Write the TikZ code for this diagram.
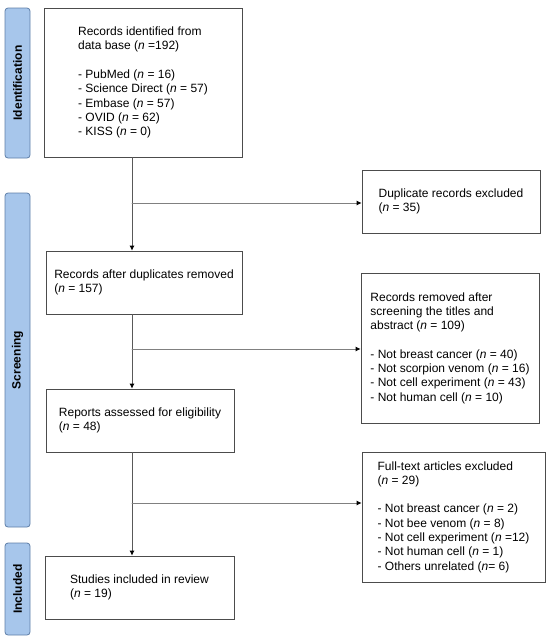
\documentclass[tikz,border=0pt]{standalone}
\usepackage{fontspec}
\setmainfont{Liberation Sans}
\usetikzlibrary{arrows.meta}

\begin{document}
\begin{tikzpicture}
  [x=1pt,y=-1pt,line cap=round,
   % Styles
   stage box/.style={draw=boxcolor,line width=0.8pt,fill=white,align=left,
     inner sep=0pt,font=\fontsize{12}{14.3}\selectfont},
   phase label/.style={draw=phaseborder,fill=phasecolor,rounded corners=3pt,
     line width=0.8pt,rotate=90,minimum height=25pt,inner sep=0pt,
     font=\bfseries\fontsize{12}{14}\selectfont},
   flow/.style={draw=linecolor,line width=0.8pt,
     -{Latex[length=5pt,width=5pt,color=black]}},
   branch/.style={flow,draw=branchcolor}]

  % Local definitions
  \def\nsym{\textit{n}}
  \def\gap{\\[14.3pt]}

  % Colors
  \colorlet{boxcolor}{black!70}
  \colorlet{linecolor}{black!65}
  \colorlet{branchcolor}{black!50}
  \definecolor{phasecolor}{HTML}{A7C6EB}
  \definecolor{phaseborder}{HTML}{5F7FA8}

  \useasboundingbox (0,0) rectangle (550,641);

  % Phase labels
  \node[phase label,minimum width=150pt] (identification) at (17.5,83) {Identification};
  \node[phase label,minimum width=334pt] (screening) at (17.5,360) {Screening};
  \node[phase label,minimum width=92pt] (included) at (17.5,589) {Included};

  % Main stages
  \node[stage box,minimum width=198pt,minimum height=149pt] (records) at (143,82.5)
    {Records identified from\\data base (\nsym{} =192)\gap
     - PubMed (\nsym{} = 16)\\- Science Direct (\nsym{} = 57)\\
     - Embase (\nsym{} = 57)\\- OVID (\nsym{} = 62)\\- KISS (\nsym{} = 0)};
  \node[stage box,minimum width=196pt,minimum height=63pt] (dedup) at (144,282.5)
    {Records after duplicates removed\\(\nsym{} = 157)};
  \node[stage box,minimum width=188pt,minimum height=63pt] (assessed) at (140,420.5)
    {Reports assessed for eligibility\\(\nsym{} = 48)};
  \node[stage box,minimum width=189pt,minimum height=63pt] (studies) at (139.5,587.5)
    {Studies included in review\\(\nsym{} = 19)};

  % Exclusions
  \node[stage box,minimum width=178pt,minimum height=63pt] (duplicates) at (451,201.5)
    {Duplicate records excluded\\(\nsym{} = 35)};
  \node[stage box,minimum width=178pt,minimum height=150pt] (screened) at (450,348)
    {Records removed after\\screening the titles and\\abstract (\nsym{} = 109)\gap
     - Not breast cancer (\nsym{} = 40)\\- Not scorpion venom (\nsym{} = 16)\\
     - Not cell experiment (\nsym{} = 43)\\- Not human cell (\nsym{} = 10)};
  \node[stage box,minimum width=183pt,minimum height=130pt] (fulltext) at (453.5,517)
    {Full-text articles excluded\\(\nsym{} = 29)\gap
     - Not breast cancer (\nsym{} = 2)\\- Not bee venom (\nsym{} = 8)\\
     - Not cell experiment (\nsym{} =12)\\- Not human cell (\nsym{} = 1)\\
     - Others unrelated (\nsym{}= 6)};

  % Connectors
  \coordinate (spine) at (132,0);
  \coordinate (split1) at (132,203);
  \coordinate (split2) at (132,349);
  \coordinate (split3) at (132,503);

  \draw[flow] (records.south -| spine) -- (dedup.north -| spine);
  \draw[flow] (dedup.south -| spine) -- (assessed.north -| spine);
  \draw[flow] (assessed.south -| spine) -- (studies.north -| spine);

  \draw[branch] (split1) -- (duplicates.west |- split1);
  \draw[branch] (split2) -- (screened.west |- split2);
  \draw[branch] (split3) -- (fulltext.west |- split3);
\end{tikzpicture}
\end{document}
